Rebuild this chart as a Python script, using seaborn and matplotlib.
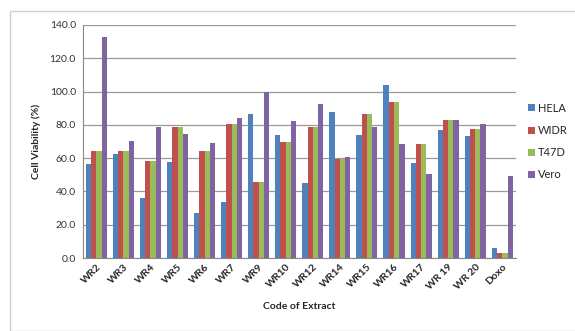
import numpy as np
import pandas as pd
import matplotlib.pyplot as plt
import seaborn as sns
from matplotlib.patches import Rectangle

extracts = ['WR2', 'WR3', 'WR4', 'WR5', 'WR6', 'WR7', 'WR9', 'WR10', 'WR12',
            'WR14', 'WR15', 'WR16', 'WR17', 'WR 19', 'WR 20', 'Doxo']
hela = [56.2, 62.5, 36.0, 57.5, 27.2, 33.6, 86.4, 74.2, 45.0, 87.6, 73.8, 104.2, 57.2, 77.2, 73.6, 6.0]
widr = [64.3, 64.0, 58.0, 79.0, 64.0, 80.8, 45.8, 69.6, 78.8, 59.2, 86.3, 94.0, 68.4, 82.8, 77.3, 3.2]
t47d = [64.3, 64.0, 58.0, 79.0, 64.0, 80.8, 45.8, 69.6, 78.8, 59.2, 86.3, 94.0, 68.4, 82.8, 77.3, 3.2]
vero = [132.5, 70.2, 79.0, 74.6, 68.8, 84.4, 99.8, 82.4, 92.4, 60.4, 78.6, 68.4, 50.2, 83.2, 80.8, 49.4]
cell_lines = ['HELA', 'WIDR', 'T47D', 'Vero']
colors = ['#4F81BD', '#C0504D', '#9BBB59', '#8064A2']

df = pd.DataFrame({'HELA': hela, 'WIDR': widr, 'T47D': t47d, 'Vero': vero}, index=extracts)
df = df.reset_index().rename(columns={'index': 'extract'})
long = df.melt(id_vars='extract', var_name='line', value_name='viability')

sns.set_style('white')
plt.rcParams['font.family'] = ['Lato', 'DejaVu Sans']

fig = plt.figure(figsize=(5.75, 3.31), dpi=100)
ax = fig.add_axes([0.144, 0.2205, 0.753, 0.704])
sns.barplot(data=long, x='extract', y='viability', hue='line', hue_order=cell_lines,
            palette=colors, width=0.78, gap=0, ax=ax, errorbar=None, saturation=1,
            linewidth=0)

ax.set_ylim(0, 140)
ax.set_yticks(np.arange(0, 141, 20))
ax.set_yticklabels([f'{v:.1f}' for v in np.arange(0, 141, 20)], fontsize=7.5, color='#333333')
ax.set_xlim(-0.5, len(extracts) - 0.5)
ax.set_xticks(range(len(extracts)))
ax.set_xticklabels(extracts, rotation=45, ha='right', rotation_mode='anchor',
                   fontsize=7.5, fontweight='bold')
ax.yaxis.grid(True, color='#999999', linewidth=0.9)
ax.set_axisbelow(True)
for s in ['top', 'right']:
    ax.spines[s].set_visible(False)
ax.spines['left'].set_color('#888888')
ax.spines['bottom'].set_color('#888888')
ax.tick_params(axis='y', length=3, color='#888888', pad=2)
ax.tick_params(axis='x', length=0, pad=3)

ax.set_ylabel('Cell Viability (%)', fontsize=7.5, fontweight='bold', labelpad=6)
ax.set_xlabel('Code of Extract', fontsize=7.5, fontweight='bold', labelpad=8)

leg = ax.legend(loc='center left', bbox_to_anchor=(1.005, 0.5), frameon=False,
                fontsize=8, handlelength=0.6, handleheight=0.6, handletextpad=0.3,
                labelspacing=1.0)

fig.patches.append(Rectangle((0.018, 0.0), 0.99, 0.967, transform=fig.transFigure,
                             fill=False, edgecolor='#d0d0d0', linewidth=1))

fig.savefig('out.png', dpi=100)
